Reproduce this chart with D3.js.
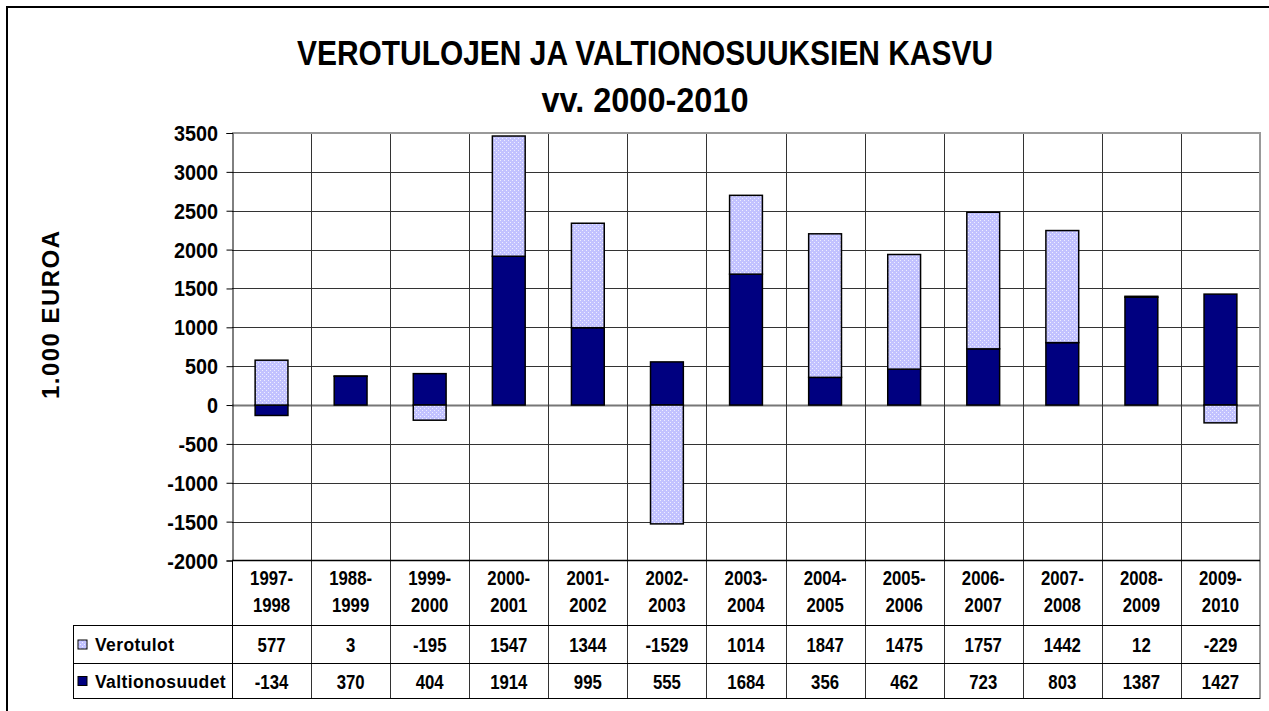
<!DOCTYPE html>
<html>
<head>
<meta charset="utf-8">
<script src="https://cdn.jsdelivr.net/npm/d3@7"></script>
<style>
  body { margin: 0; background: #fff; }
  svg { display: block; font-family: 'Liberation Sans', Arial, sans-serif; font-weight: bold; }
</style>
</head>
<body>
<div id="chart"></div>
<script>
const categories = ['1997-1998', '1988-1999', '1999-2000', '2000-2001', '2001-2002', '2002-2003', '2003-2004',
  '2004-2005', '2005-2006', '2006-2007', '2007-2008', '2008-2009', '2009-2010'];
const verotulot = [577, 3, -195, 1547, 1344, -1529, 1014, 1847, 1475, 1757, 1442, 12, -229];
const valtionosuudet = [-134, 370, 404, 1914, 995, 555, 1684, 356, 462, 723, 803, 1387, 1427];
const yTicks = [3500, 3000, 2500, 2000, 1500, 1000, 500, 0, -500, -1000, -1500, -2000];
const seriesNames = ['Verotulot', 'Valtionosuudet'];

const width = 1269, height = 711;
const plot = { left: 232, right: 1260, top: 133, bottom: 560.5 };
const rows = { head: 625, vero: 663, valt: 698, tableLeft: 73 };

const svg = d3.select('#chart').append('svg')
  .attr('width', width)
  .attr('height', height);

// light dotted fill used by Verotulot
const pat = svg.append('defs').append('pattern')
  .attr('id', 'dots')
  .attr('width', 4).attr('height', 4)
  .attr('patternUnits', 'userSpaceOnUse');
pat.append('rect').attr('width', 4).attr('height', 4).attr('fill', '#c2c2ff');
pat.append('rect').attr('x', 0).attr('y', 0).attr('width', 1).attr('height', 1).attr('fill', '#eeeeff');
pat.append('rect').attr('x', 2).attr('y', 2).attr('width', 1).attr('height', 1).attr('fill', '#eeeeff');

const fills = { verotulot: 'url(#dots)', valtionosuudet: '#000080' };

// outer chart frame (runs past the right and bottom edge like the original)
svg.append('rect')
  .attr('x', 7).attr('y', 7)
  .attr('width', 1300).attr('height', 740)
  .attr('fill', 'none')
  .attr('stroke', '#000')
  .attr('stroke-width', 2);

const x = d3.scaleBand()
  .domain(categories)
  .range([plot.left, plot.right]);

const y = d3.scaleLinear()
  .domain([-2000, 3500])
  .range([plot.bottom, plot.top]);

// helper: bold text slightly squeezed horizontally
function label(parent, tx, ty, text, size, anchor, sx = 0.9) {
  return parent.append('text')
    .attr('transform', `translate(${tx},${ty}) scale(${sx},1)`)
    .attr('text-anchor', anchor)
    .attr('font-size', size)
    .attr('fill', '#000')
    .text(text);
}

// title
label(svg, 645, 65, 'VEROTULOJEN JA VALTIONOSUUKSIEN KASVU', 35, 'middle', 1)
  .attr('textLength', 696)
  .attr('lengthAdjust', 'spacingAndGlyphs');
label(svg, 645, 112, 'vv. 2000-2010', 35, 'middle', 1)
  .attr('textLength', 207)
  .attr('lengthAdjust', 'spacingAndGlyphs');

// y axis title, letter-spaced
svg.append('text')
  .attr('transform', 'translate(59,315) rotate(-90)')
  .attr('text-anchor', 'middle')
  .attr('font-size', 24)
  .attr('textLength', 168)
  .attr('lengthAdjust', 'spacing')
  .text('1.000  EUROA');

// horizontal gridlines
const grid = svg.append('g');
grid.selectAll('line.h')
  .data(yTicks.filter(d => d !== 3500 && d !== -2000))
  .join('line')
  .attr('class', 'h')
  .attr('x1', plot.left).attr('x2', plot.right)
  .attr('y1', d => Math.round(y(d)) + 0.5)
  .attr('y2', d => Math.round(y(d)) + 0.5)
  .attr('stroke', d => d === 0 ? '#777' : '#333')
  .attr('stroke-width', d => d === 0 ? 2 : 1);

// column separators running down through the data table
grid.selectAll('line.v')
  .data(categories.slice(1))
  .join('line')
  .attr('class', 'v')
  .attr('x1', d => Math.round(x(d)) + 0.5)
  .attr('x2', d => Math.round(x(d)) + 0.5)
  .attr('y1', plot.top).attr('y2', rows.valt)
  .attr('stroke', '#333');

// plot frame: grey top and right
svg.append('line')
  .attr('x1', plot.left).attr('x2', plot.right)
  .attr('y1', plot.top).attr('y2', plot.top)
  .attr('stroke', '#999').attr('stroke-width', 2);
svg.append('line')
  .attr('x1', plot.right).attr('x2', plot.right)
  .attr('y1', plot.top - 1).attr('y2', rows.valt + 1)
  .attr('stroke', '#999').attr('stroke-width', 2);

// y axis
const yAxis = d3.axisLeft(y).tickValues(yTicks).tickSize(6).tickFormat('');
const ax = svg.append('g')
  .attr('transform', `translate(${plot.left + 0.5},0)`)
  .call(yAxis);
ax.select('.domain').attr('stroke', '#000');
ax.selectAll('.tick line').attr('stroke', '#000');
yTicks.forEach(t => label(svg, 218, y(t) + 8, String(t), 22.5, 'end', 0.88));

// stacked bars (positive and negative parts stack apart)
const table = categories.map((c, i) => ({ cat: c, valtionosuudet: valtionosuudet[i], verotulot: verotulot[i] }));
const stacked = d3.stack()
  .keys(['valtionosuudet', 'verotulot'])
  .offset(d3.stackOffsetDiverging)(table);

const barW = x.bandwidth() * 0.415;
svg.append('g')
  .selectAll('g')
  .data(stacked)
  .join('g')
  .attr('fill', d => fills[d.key])
  .selectAll('rect')
  .data(d => d)
  .join('rect')
  .attr('x', d => x(d.data.cat) + (x.bandwidth() - barW) / 2)
  .attr('y', d => y(Math.max(d[0], d[1])))
  .attr('width', barW)
  .attr('height', d => Math.abs(y(d[0]) - y(d[1])))
  .attr('stroke', '#000')
  .attr('stroke-width', 1.5);

// data table lines
const tl = svg.append('g').attr('stroke', '#000');
tl.append('line').attr('x1', plot.left).attr('x2', plot.right).attr('y1', plot.bottom).attr('y2', plot.bottom).attr('stroke-width', 1.5);
[rows.head, rows.vero, rows.valt].forEach(ry => {
  tl.append('line').attr('x1', rows.tableLeft).attr('x2', plot.right).attr('y1', ry + 0.5).attr('y2', ry + 0.5);
});
tl.append('line').attr('x1', rows.tableLeft + 0.5).attr('x2', rows.tableLeft + 0.5).attr('y1', rows.head).attr('y2', rows.valt + 1);
tl.append('line').attr('x1', plot.left + 0.5).attr('x2', plot.left + 0.5).attr('y1', plot.bottom).attr('y2', rows.valt + 1);

// category labels on two lines
const cx = c => x(c) + x.bandwidth() / 2;
categories.forEach(c => {
  const [a, b] = c.split('-');
  label(svg, cx(c), 585, a + '-', 19.5, 'middle', 0.86);
  label(svg, cx(c), 612, b, 19.5, 'middle', 0.86);
});

// table values
categories.forEach((c, i) => {
  label(svg, cx(c), 652, String(verotulot[i]), 19.5, 'middle', 0.86);
  label(svg, cx(c), 689, String(valtionosuudet[i]), 19.5, 'middle', 0.86);
});

// legend keys inside the table
const legendY = [(rows.head + rows.vero) / 2, (rows.vero + rows.valt) / 2];
seriesNames.forEach((name, i) => {
  svg.append('rect')
    .attr('x', 78).attr('y', legendY[i] - 4)
    .attr('width', 9).attr('height', 9)
    .attr('fill', i === 0 ? fills.verotulot : fills.valtionosuudet)
    .attr('stroke', '#000')
    .attr('stroke-width', 1);
  svg.append('text')
    .attr('x', 95).attr('y', legendY[i] + 7)
    .attr('font-size', 17.5)
    .attr('letter-spacing', 0.4)
    .text(name);
});
</script>
</body>
</html>
